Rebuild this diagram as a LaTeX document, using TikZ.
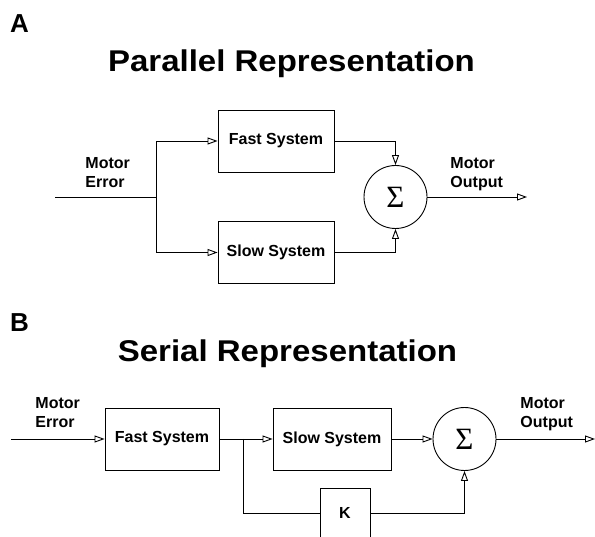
\documentclass[tikz,border=0pt]{standalone}
\usepackage{fontspec}
\setmainfont{Liberation Sans}
\newfontfamily\titlefont[FakeStretch=1.1]{Liberation Sans}
\newfontfamily\sigfont{Liberation Serif}
\usetikzlibrary{arrows.meta}

\begin{document}
\begin{tikzpicture}[x=1pt,y=-1pt,line width=0.9pt,
  blk/.style={draw,minimum width=116pt,minimum height=62pt,inner sep=0pt,font=\fontsize{16}{19}\selectfont\bfseries},
  sumnode/.style={draw,circle,minimum size=63pt,inner sep=0pt,font=\sigfont\fontsize{31}{32}\selectfont},
  lbl/.style={anchor=north west,align=left,inner sep=0pt,font=\fontsize{16}{19}\selectfont\bfseries},
  ttl/.style={anchor=base,inner sep=0pt,font=\titlefont\fontsize{30}{36}\selectfont\bfseries},
  pnl/.style={anchor=base,inner sep=0pt,font=\fontsize{26}{30}\selectfont\bfseries},
  arr/.style={-{Triangle[open,length=10pt,width=7pt]}}]

\useasboundingbox (0,0) rectangle (595,537);

% panel A
\node[pnl] (labA) at (19.5,33) {A};
\node[ttl] (titA) at (291.5,72) {Parallel Representation};

\coordinate (inA) at (55,197);
\coordinate (jA) at (156,197);
\node[blk] (fastA) at (276,141) {Fast System};
\node[blk] (slowA) at (276,252.5) {Slow System};
\node[sumnode] (sumA) at (395.5,197) {Σ};
\coordinate (outA) at (527,197);

\node[lbl] (errA) at (85,157) {Motor\\Error};
\node[lbl] (motA) at (450,157) {Motor\\Output};

\draw (inA) -- (jA);
\draw[arr] (jA) |- (fastA.west);
\draw[arr] (jA) |- (slowA.west);
\draw[arr] (fastA.east) -| (sumA.north);
\draw[arr] (slowA.east) -| (sumA.south);
\draw[arr] (sumA.east) -- (outA);

% panel B
\node[pnl] (labB) at (19.5,332) {B};
\node[ttl] (titB) at (287.5,362) {Serial Representation};

\coordinate (inB) at (11,439);
\node[blk,minimum width=114pt] (fastB) at (162,439) {Fast System};
\coordinate (jB) at (243.5,439);
\node[blk,minimum width=118pt] (slowB) at (332,439) {Slow System};
\node[sumnode] (sumB) at (464.5,439) {Σ};
\coordinate (outB) at (595,439);
\node[blk,minimum width=50pt,minimum height=50pt,anchor=north] (gainK) at (345,488) {K};

\node[lbl] (errB) at (35,397.5) {Motor\\Error};
\node[lbl] (motB) at (520,397.5) {Motor\\Output};

\draw[arr] (inB) -- (fastB);
\draw (fastB) -- (jB);
\draw[arr] (jB) -- (slowB);
\draw[arr] (slowB) -- (sumB);
\draw[arr] (sumB) -- (outB);
\draw (jB) |- (gainK.west);
\draw[arr] (gainK.east) -| (sumB.south);

\end{tikzpicture}
\end{document}
